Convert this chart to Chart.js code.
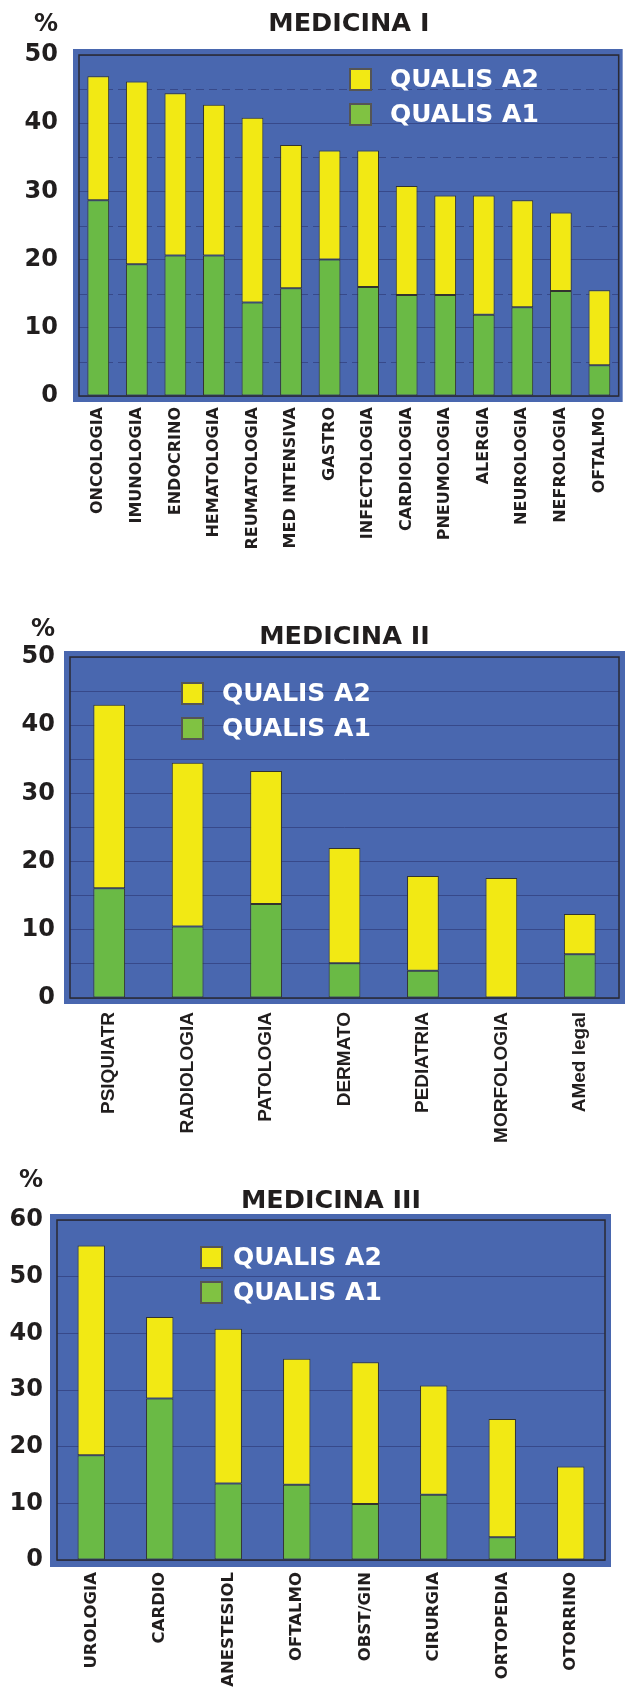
<!DOCTYPE html>
<html><head><meta charset="utf-8">
<script src="https://cdn.jsdelivr.net/npm/chart.js@4.4.1/dist/chart.umd.min.js"></script>
<style>
html,body{margin:0;padding:0;background:#fff;}
body{width:630px;height:1690px;position:relative;overflow:hidden;}
.box{position:absolute;left:0;width:630px;}
canvas{display:block;}
</style></head><body>
<div class="box" style="top:0;height:575px"><canvas id="c1" width="630" height="575"></canvas></div>
<div class="box" style="top:575px;height:575px"><canvas id="c2" width="630" height="575"></canvas></div>
<div class="box" style="top:1150px;height:540px"><canvas id="c3" width="630" height="540"></canvas></div>
<script>
// ---------- DATA ----------
const seriesNames = ['QUALIS A1', 'QUALIS A2'];

const med1Title = 'MEDICINA I';
const med1Categories = ['ONCOLOGIA','IMUNOLOGIA','ENDOCRINO','HEMATOLOGIA','REUMATOLOGIA','MED INTENSIVA','GASTRO','INFECTOLOGIA','CARDIOLOGIA','PNEUMOLOGIA','ALERGIA','NEUROLOGIA','NEFROLOGIA','OFTALMO'];
const med1QualisA1 = [28.7, 19.3, 20.6, 20.6, 13.7, 15.8, 20.0, 16.0, 14.8, 14.8, 11.9, 13.0, 15.4, 4.5];
const med1QualisA2 = [18.2, 26.8, 23.8, 22.1, 27.1, 21.0, 16.0, 20.0, 16.0, 14.6, 17.5, 15.7, 11.5, 11.0];
const med1YTicks = [0, 10, 20, 30, 40, 50];
const med1DashedGrid = [5, 15, 25, 35, 45];

const med2Title = 'MEDICINA II';
const med2Categories = ['PSIQUIATR','RADIOLOGIA','PATOLOGIA','DERMATO','PEDIATRIA','MORFOLOGIA','AMed legal'];
const med2QualisA1 = [16.1, 10.5, 13.8, 5.1, 4.0, 0, 6.4];
const med2QualisA2 = [26.9, 24.0, 19.5, 16.9, 13.9, 17.6, 5.9];
const med2YTicks = [0, 10, 20, 30, 40, 50];
const med2GridLines = [0, 5, 10, 15, 20, 25, 30, 35, 40, 45, 50];

const med3Title = 'MEDICINA III';
const med3Categories = ['UROLOGIA','CARDIO','ANESTESIOL','OFTALMO','OBST/GIN','CIRURGIA','ORTOPEDIA','OTORRINO'];
const med3QualisA1 = [18.5, 28.5, 13.5, 13.3, 9.9, 11.5, 4.0, 0];
const med3QualisA2 = [37.0, 14.4, 27.3, 22.2, 25.0, 19.3, 20.9, 16.5];
const med3YTicks = [0, 10, 20, 30, 40, 50, 60];

// ---------- STYLE ----------
const BLUE = '#4967af';
const YELLOW = '#f2e914';
const GREEN = '#6aba45';
const GREEN_LEGEND = '#80c242';
const TEXT = '#211e1e';
const GRID = '#37498a';
const VERDANA = '"DejaVu Sans", Verdana, sans-serif';
const ARIAL = '"Liberation Sans", Arial, sans-serif';

const panelPlugin = {
  id: 'panel',
  beforeDraw(chart, args, o) {
    const {ctx, chartArea: a} = chart;
    ctx.save();
    ctx.fillStyle = o.color;
    ctx.fillRect(a.left - o.pad.l, a.top - o.pad.t, a.width + o.pad.l + o.pad.r, a.height + o.pad.t + o.pad.b);
    ctx.restore();
  },
  beforeDatasetsDraw(chart, args, o) {
    if (!o.dashed || !o.dashed.length) return;
    const {ctx, chartArea: a} = chart;
    const y = chart.scales.y;
    ctx.save();
    ctx.strokeStyle = o.gridColor;
    ctx.lineWidth = 1;
    ctx.setLineDash([8, 5]);
    o.dashed.forEach(v => {
      const py = Math.round(y.getPixelForValue(v)) + 0.5;
      ctx.beginPath();
      ctx.moveTo(a.left, py);
      ctx.lineTo(a.right, py);
      ctx.stroke();
    });
    ctx.restore();
  },
  afterDatasetsDraw(chart, args, o) {
    const {ctx, chartArea: a} = chart;
    ctx.save();
    ctx.strokeStyle = '#2a2a33';
    ctx.lineWidth = 1.5;
    ctx.strokeRect(a.left, a.top, a.width, a.height);
    ctx.restore();
  }
};

const legendPlugin = {
  id: 'inLegend',
  afterDatasetsDraw(chart, args, o) {
    const ctx = chart.ctx;
    const items = chart.data.datasets.map(d => ({label: d.label, color: d.legendColor || d.backgroundColor})).reverse();
    ctx.save();
    ctx.font = 'bold 25px ' + VERDANA;
    ctx.textBaseline = 'middle';
    ctx.textAlign = 'left';
    items.forEach((it, i) => {
      const y = o.y + i * o.spacing;
      ctx.fillStyle = it.color;
      ctx.fillRect(o.x, y, o.box, o.box);
      ctx.strokeStyle = '#555555';
      ctx.lineWidth = 2;
      ctx.strokeRect(o.x + 1, y + 1, o.box - 2, o.box - 2);
      ctx.fillStyle = '#ffffff';
      ctx.fillText(it.label, o.textX, y + o.box / 2 + 1);
    });
    ctx.restore();
  }
};

const percentPlugin = {
  id: 'percent',
  afterDraw(chart, args, o) {
    const ctx = chart.ctx;
    ctx.save();
    ctx.font = 'bold 24px ' + VERDANA;
    ctx.fillStyle = TEXT;
    ctx.textAlign = 'right';
    ctx.textBaseline = 'middle';
    ctx.fillText('%', o.x, o.y);
    ctx.restore();
  }
};

function makeChart(id, cfg) {
  const c = document.getElementById(id);
  return new Chart(c, {
    type: 'bar',
    data: {
      labels: cfg.categories,
      datasets: [
        {label: seriesNames[0], data: cfg.a1, backgroundColor: GREEN, legendColor: GREEN_LEGEND,
         borderColor: '#33332e', borderWidth: 1, borderSkipped: false,
         categoryPercentage: 1, barPercentage: cfg.barPct},
        {label: seriesNames[1], data: cfg.a2, backgroundColor: YELLOW,
         borderColor: '#33332e', borderWidth: 1, borderSkipped: false,
         categoryPercentage: 1, barPercentage: cfg.barPct}
      ]
    },
    options: {
      responsive: false,
      animation: false,
      events: [],
      layout: {padding: {left: 0, right: cfg.padRight, top: 0, bottom: 0}},
      plugins: {
        legend: {display: false},
        tooltip: {enabled: false},
        title: {
          display: true, text: cfg.title, fullSize: false, color: TEXT,
          font: {family: VERDANA, size: 25.5, weight: 'bold', lineHeight: 1},
          padding: {top: cfg.titleTop, bottom: cfg.titleBottom}
        },
        panel: {color: BLUE, pad: cfg.pad, dashed: cfg.dashed, gridColor: GRID},
        inLegend: cfg.legend,
        percent: cfg.percent
      },
      scales: {
        x: {
          stacked: true,
          grid: {display: false, drawTicks: false},
          border: {display: false},
          ticks: {autoSkip: false, maxRotation: 90, minRotation: 90, padding: cfg.xPad,
                  color: TEXT, font: cfg.xFont},
          afterFit: s => { s.height = cfg.xHeight; }
        },
        y: {
          stacked: true,
          min: 0, max: cfg.yTicks[cfg.yTicks.length - 1],
          afterBuildTicks: s => { s.ticks = cfg.gridValues.map(v => ({value: v})); },
          grid: {color: GRID, lineWidth: 1, drawTicks: false},
          border: {display: false},
          ticks: {padding: cfg.yPad, color: TEXT,
                  font: {family: VERDANA, size: 24, weight: 'bold'},
                  callback: v => cfg.yTicks.includes(v) ? String(v) : ''},
          afterFit: s => { s.width = cfg.yWidth; }
        }
      }
    },
    plugins: [panelPlugin, legendPlugin, percentPlugin]
  });
}

makeChart('c1', {
  title: med1Title, categories: med1Categories, a1: med1QualisA1, a2: med1QualisA2,
  yTicks: med1YTicks, gridValues: med1YTicks, dashed: med1DashedGrid,
  barPct: 0.565, padRight: 4, yWidth: 79, yPad: 21, xHeight: 179, xPad: 11,
  titleTop: 11.25, titleBottom: 18.25,
  xFont: {family: VERDANA, size: 16, weight: 'bold'},
  pad: {l: 6, t: 6, r: 4, b: 6},
  legend: {x: 349, y: 68, textX: 390, box: 23, spacing: 35},
  percent: {x: 58, y: 25}
});

makeChart('c2', {
  title: med2Title, categories: med2Categories, a1: med2QualisA1, a2: med2QualisA2,
  yTicks: med2YTicks, gridValues: med2GridLines, dashed: [],
  barPct: 0.405, padRight: 11, yWidth: 70, yPad: 15, xHeight: 152, xPad: 14,
  titleTop: 49.25, titleBottom: 7.25,
  xFont: {family: ARIAL, size: 19, weight: 'bold'},
  pad: {l: 6, t: 6, r: 6, b: 6},
  legend: {x: 181, y: 107, textX: 222, box: 23, spacing: 35},
  percent: {x: 55, y: 55}
});

makeChart('c3', {
  title: med3Title, categories: med3Categories, a1: med3QualisA1, a2: med3QualisA2,
  yTicks: med3YTicks, gridValues: med3YTicks, dashed: [],
  barPct: 0.40, padRight: 25, yWidth: 57, yPad: 14, xHeight: 130, xPad: 12,
  titleTop: 38.25, titleBottom: 6.25,
  xFont: {family: VERDANA, size: 16.5, weight: 'bold'},
  pad: {l: 7, t: 6, r: 6, b: 7},
  legend: {x: 200, y: 96, textX: 233, box: 23, spacing: 35},
  percent: {x: 43, y: 31}
});
</script>
</body></html>
